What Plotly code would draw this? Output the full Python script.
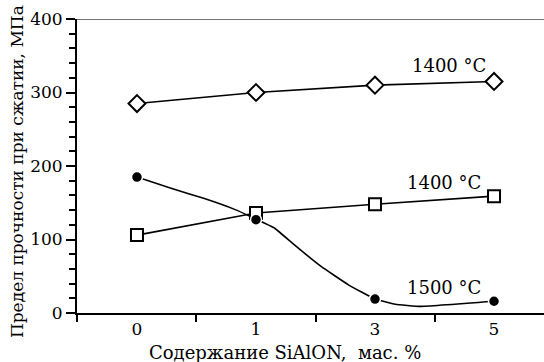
import plotly.graph_objects as go

# categories: SiAlON content, mass %
categories = ["0", "1", "3", "5"]
cat_pos = [0, 1, 2, 3]

# compressive strength, MPa
s1400_diamond = [285, 300, 310, 315]
s1400_square = [106, 136, 148, 159]
s1500_dots = [185, 127, 19, 16]

# drawn curve of the 1500 °C series
curve_x = [0, 0.28, 0.56, 0.82, 0.97, 1.16, 1.32, 1.55, 1.78, 2.0, 2.17, 2.38, 3.0]
curve_y = [185, 170, 156, 141, 130, 115, 93, 63, 38, 19, 12, 9, 16]

labels = ["1400 °C", "1400 °C", "1500 °C"]
label_x = [2.62, 2.58, 2.58]
label_y = [337, 177, 35]

FONT = "DejaVu Serif"
FS = 17

fig = go.Figure()

fig.add_trace(go.Scatter(x=curve_x, y=curve_y, mode="lines",
                         line=dict(color="black", width=1.6, shape="spline", smoothing=0.3),
                         hoverinfo="skip"))
fig.add_trace(go.Scatter(x=cat_pos, y=s1400_square, mode="lines+markers",
                         line=dict(color="black", width=1.6),
                         marker=dict(symbol="square", size=12, color="white",
                                     line=dict(color="black", width=2))))
fig.add_trace(go.Scatter(x=cat_pos, y=s1500_dots, mode="markers",
                         marker=dict(symbol="circle", size=11, color="black",
                                     line=dict(color="white", width=1.5))))
fig.add_trace(go.Scatter(x=cat_pos, y=s1400_diamond, mode="lines+markers",
                         line=dict(color="black", width=1.6),
                         marker=dict(symbol="diamond", size=13, color="white",
                                     line=dict(color="black", width=2))))

for t, x, y in zip(labels, label_x, label_y):
    fig.add_annotation(x=x, y=y, text=t, showarrow=False, xref="x", yref="y",
                       font=dict(family=FONT, size=18, color="black"))

# axis titles
fig.add_annotation(x=(285 - 77) / (544 - 77), y=-0.135, xref="paper", yref="paper",
                   text="Содержание SiAlON,  мас. %", showarrow=False,
                   xanchor="center", yanchor="middle",
                   font=dict(family=FONT, size=18, color="black"))
fig.add_annotation(x=-0.128, y=0.48, xref="paper", yref="paper",
                   text="Предел прочности при сжатии, МПа", showarrow=False,
                   textangle=-90, xanchor="center", yanchor="middle",
                   font=dict(family=FONT, size=17, color="black"))

# top border line
fig.add_shape(type="line", xref="paper", yref="y", x0=0, x1=1, y0=400, y1=400,
              line=dict(color="#444", width=1.5))

fig.update_layout(
    width=544, height=362,
    margin=dict(l=77, r=0, t=19, b=49),
    plot_bgcolor="white", paper_bgcolor="white",
    showlegend=False,
    font=dict(family=FONT, size=FS, color="black"),
)
fig.update_xaxes(
    range=[-0.504, 3.42], showgrid=False, zeroline=False,
    showline=True, linecolor="black", linewidth=2,
    tickmode="array", tickvals=cat_pos, ticktext=categories,
    ticks="outside", ticklen=0, tickfont=dict(family=FONT, size=FS),
    minor=dict(tickmode="array", tickvals=[-0.5, 0.5, 1.5, 2.5], ticks="outside",
               ticklen=7, tickwidth=2, tickcolor="black", showgrid=False),
)
fig.update_yaxes(
    range=[0, 400], showgrid=False, zeroline=False,
    showline=True, linecolor="black", linewidth=2,
    tickmode="linear", tick0=0, dtick=100,
    ticks="outside", ticklen=9, tickwidth=2, tickcolor="black",
    tickfont=dict(family=FONT, size=FS),
    minor=dict(tickmode="linear", tick0=0, dtick=20, ticks="outside",
               ticklen=6, tickwidth=2, tickcolor="black", showgrid=False),
)

fig.write_html("out.html")
